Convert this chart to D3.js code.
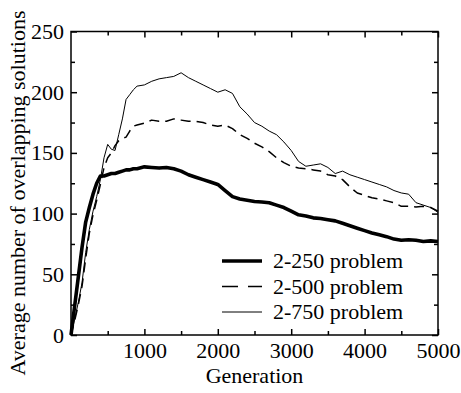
<!DOCTYPE html>
<html>
<head>
<meta charset="utf-8">
<script src="https://d3js.org/d3.v7.min.js"></script>
<style>
  body { margin: 0; background: #fff; }
  .domain { display: none; }
</style>
</head>
<body>
<svg id="chart"></svg>
<script>
// generations sampled along each curve
const generations = [0, 50, 100, 150, 200, 250, 300, 350, 400, 450, 500, 550, 600, 650, 700, 750, 800, 850, 900, 1000,
  1100, 1200, 1300, 1400, 1500, 1600, 1700, 1800, 1900, 2000, 2100, 2200, 2300, 2400, 2500, 2600, 2700, 2800, 2900, 3000,
  3100, 3200, 3300, 3400, 3500, 3600, 3700, 3800, 3900, 4000, 4100, 4200, 4300, 4400, 4500, 4600, 4700, 4800, 4900, 5000];

const p250 = [0, 24, 48, 72, 93, 105, 116, 125, 131, 131, 132, 133, 133, 134, 135, 136, 136, 137, 137, 138.5,
  138, 137.5, 138, 137, 135, 132, 130, 128, 126, 124, 119, 114, 112, 111, 110, 109.5, 109, 107, 105, 102,
  99, 98, 96.5, 96, 95, 94, 92, 90, 88, 86, 84, 82.5, 81, 79, 78, 78.5, 78, 77, 77.5, 77];

const p500 = [0, 12, 25, 40, 63, 84, 99, 111, 124, 138, 146, 150, 156, 160, 162, 163, 168, 172, 173, 174.5,
  177, 176, 176, 178, 177, 176, 176, 175, 173, 172, 173, 170, 165, 162, 158, 155, 151, 146, 142, 139,
  137.5, 137, 136, 135, 132, 131, 128, 122, 117, 115, 113, 112, 110.5, 109, 106, 106, 105.5, 106, 105, 102];

const p750 = [0, 13, 27, 43, 68, 87, 102, 114, 128, 146, 157, 153, 152, 165, 178, 194, 198, 202, 205, 206,
  209, 211, 212, 213, 216, 212, 209, 206, 203, 200, 202, 199, 188, 182, 175, 172, 168, 165, 159, 152,
  143, 139, 140, 141, 138, 133, 135, 132, 130, 128, 126, 124, 122, 119, 117, 116, 109, 107, 105, 101];

const seriesNames = ["2-250 problem", "2-500 problem", "2-750 problem"];
const xTicks = [1000, 2000, 3000, 4000, 5000];
const yTicks = [0, 50, 100, 150, 200, 250];

const W = 461, H = 393;
const FONT = "Liberation Serif";
const fs = 22;
const svg = d3.select("#chart").attr("width", W).attr("height", H);

const x = d3.scaleLinear().domain([0, 5000]).range([71, 438]);
const y = d3.scaleLinear().domain([0, 250]).range([335, 31.5]);

const styles = [
  { width: 3.6, dash: null },
  { width: 1.5, dash: "10,6" },
  { width: 1, dash: null }
];
const allSeries = [p250, p500, p750];

const line = d3.line().x((d, i) => x(generations[i])).y(d => y(d));

allSeries.forEach((s, k) => {
  svg.append("path")
    .datum(s)
    .attr("d", line)
    .attr("fill", "none")
    .attr("stroke", "#000")
    .attr("stroke-width", styles[k].width)
    .attr("stroke-dasharray", styles[k].dash)
    .attr("stroke-linejoin", "round");
});

// frame
svg.append("rect")
  .attr("x", x(0)).attr("y", y(250))
  .attr("width", x(5000) - x(0)).attr("height", y(0) - y(250))
  .attr("fill", "none").attr("stroke", "#000").attr("stroke-width", 1.5);

function styleAxis(g) {
  g.selectAll("line").attr("stroke", "#000").attr("stroke-width", 1.5);
  g.selectAll("text").style("font-size", fs + "px").style("font-family", FONT).attr("fill", "#000");
}

// major ticks
svg.append("g").attr("transform", `translate(0,${y(0)})`)
  .call(d3.axisBottom(x).tickValues(xTicks).tickFormat(d3.format("d")).tickSizeInner(-6).tickSizeOuter(0).tickPadding(7))
  .call(styleAxis);
svg.append("g").attr("transform", `translate(0,${y(250)})`)
  .call(d3.axisTop(x).tickValues(xTicks).tickSizeInner(-6).tickSizeOuter(0).tickFormat(""))
  .call(styleAxis);
svg.append("g").attr("transform", `translate(${x(0)},0)`)
  .call(d3.axisLeft(y).tickValues(yTicks).tickFormat(d3.format("d")).tickSizeInner(-6).tickSizeOuter(0).tickPadding(7))
  .call(styleAxis);
svg.append("g").attr("transform", `translate(${x(5000)},0)`)
  .call(d3.axisRight(y).tickValues(yTicks).tickSizeInner(-6).tickSizeOuter(0).tickFormat(""))
  .call(styleAxis);

// minor ticks
const xMinor = [500, 1500, 2500, 3500, 4500];
const yMinor = [25, 75, 125, 175, 225];
svg.append("g").attr("transform", `translate(0,${y(0)})`)
  .call(d3.axisBottom(x).tickValues(xMinor).tickSizeInner(-4).tickSizeOuter(0).tickFormat(""))
  .call(styleAxis);
svg.append("g").attr("transform", `translate(0,${y(250)})`)
  .call(d3.axisTop(x).tickValues(xMinor).tickSizeInner(-4).tickSizeOuter(0).tickFormat(""))
  .call(styleAxis);
svg.append("g").attr("transform", `translate(${x(0)},0)`)
  .call(d3.axisLeft(y).tickValues(yMinor).tickSizeInner(-4).tickSizeOuter(0).tickFormat(""))
  .call(styleAxis);
svg.append("g").attr("transform", `translate(${x(5000)},0)`)
  .call(d3.axisRight(y).tickValues(yMinor).tickSizeInner(-4).tickSizeOuter(0).tickFormat(""))
  .call(styleAxis);

// axis titles
svg.append("text")
  .attr("x", (x(0) + x(5000)) / 2).attr("y", 383)
  .attr("text-anchor", "middle")
  .style("font-family", FONT)
  .style("font-size", fs + "px")
  .text("Generation");

svg.append("text")
  .attr("transform", "translate(25,193) rotate(-90)")
  .attr("text-anchor", "middle")
  .style("font-family", FONT)
  .style("font-size", fs + "px")
  .text("Average number of overlapping solutions");

// legend
const lg = svg.append("g");
seriesNames.forEach((name, k) => {
  const cy = 261 + k * 25.5;
  lg.append("line")
    .attr("x1", 222).attr("x2", 262).attr("y1", cy).attr("y2", cy)
    .attr("stroke", "#000")
    .attr("stroke-width", styles[k].width)
    .attr("stroke-dasharray", k === 1 ? "16,10" : null);
  lg.append("text")
    .attr("x", 273).attr("y", cy + 7)
    .style("font-family", FONT)
    .style("font-size", fs + "px")
    .text(name);
});
</script>
</body>
</html>
